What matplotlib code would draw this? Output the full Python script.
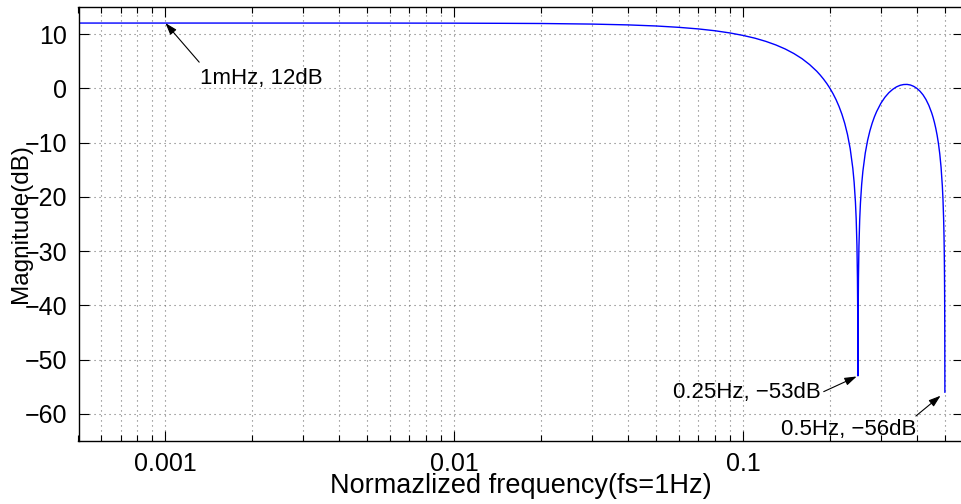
import numpy as np
import matplotlib
matplotlib.use('Agg')
import matplotlib.pyplot as plt
from matplotlib.ticker import FixedLocator, FixedFormatter, LogLocator, NullFormatter

plt.rcParams['font.family'] = ['Liberation Sans', 'DejaVu Sans']

# magnitude response of the 4-tap moving sum
freq = [0.0005, 0.001, 0.002, 0.005, 0.01, 0.015, 0.02, 0.03, 0.04, 0.05,
        0.06, 0.07, 0.08, 0.09, 0.10, 0.11, 0.12, 0.13, 0.14, 0.15,
        0.16, 0.17, 0.18, 0.185, 0.19, 0.195, 0.20, 0.205, 0.21, 0.215,
        0.22, 0.225, 0.23, 0.235, 0.24, 0.2425, 0.245, 0.2465, 0.248, 0.249,
        0.2495, 0.25,
        0.2505, 0.251, 0.252, 0.2535, 0.255, 0.2575, 0.26, 0.265, 0.27, 0.275,
        0.28, 0.285, 0.29, 0.30, 0.31, 0.32, 0.33, 0.34, 0.35, 0.36,
        0.37, 0.38, 0.39, 0.40, 0.41, 0.42, 0.43, 0.44, 0.45, 0.455,
        0.46, 0.465, 0.47, 0.475, 0.48, 0.485, 0.49, 0.4925, 0.495, 0.4965,
        0.4975, 0.498, 0.4985, 0.499, 0.4995, 0.5]
mag_db = [12.04, 12.04, 12.04, 12.04, 12.02, 11.99, 11.96, 11.85, 11.70, 11.50,
          11.25, 10.96, 10.62, 10.22, 9.76, 9.25, 8.66, 8.00, 7.26, 6.42,
          5.48, 4.39, 3.16, 2.46, 1.71, 0.90, 0.00, -0.99, -2.09, -3.34,
          -4.77, -6.45, -8.50, -11.11, -14.75, -17.31, -20.89, -24.03, -28.93, -34.98,
          -41.01, -53.0,
          -41.04, -35.03, -29.04, -24.22, -21.17, -17.72, -15.29, -11.93, -9.59, -7.82,
          -6.42, -5.26, -4.30, -2.77, -1.64, -0.79, -0.17, 0.28, 0.57, 0.71,
          0.73, 0.62, 0.37, 0.00, -0.52, -1.19, -2.05, -3.14, -4.51, -5.33,
          -6.28, -7.37, -8.64, -10.17, -12.07, -14.54, -18.03, -20.52, -24.04, -27.14,
          -30.06, -32.0, -34.49, -38.02, -44.04, -56.0]

xticks = [0.001, 0.01, 0.1]
xtick_labels = ['0.001', '0.01', '0.1']
yticks = [10, 0, -10, -20, -30, -40, -50, -60]

# (text, frequency, dB, text offset in px, alignment, arrow start on text box, shrink)
notes = [('1mHz, 12dB', 0.001, 12.04, (35, -45), ('left', 'top'), (-0.01, 1.28), 0),
         ('0.25Hz, \u221253dB', 0.25, -53.0, (-37, -17), ('right', 'center'), (1, 0.5), 1),
         ('0.5Hz, \u221256dB', 0.5, -56.0, (-29, -27), ('right', 'top'), (1, 1.15), 4)]

fig = plt.figure(figsize=(9.62, 5.04), dpi=100)
ax = fig.add_axes([78.5 / 962, 63 / 504, 885 / 962, 434 / 504])

ax.semilogx(freq, mag_db, color='#0000ff', lw=1.0)
ax.set_xlim(0.0005, 0.58)
ax.set_ylim(-65, 15)

ax.xaxis.set_major_locator(FixedLocator(xticks))
ax.xaxis.set_major_formatter(FixedFormatter(xtick_labels))
ax.xaxis.set_minor_locator(LogLocator(base=10, subs=np.arange(2, 10)))
ax.xaxis.set_minor_formatter(NullFormatter())
ax.set_yticks(yticks)

grid_style = dict(linestyle=(0, (1, 3.5)), color='0.45', lw=0.8)
ax.grid(True, which='both', axis='x', **grid_style)
ax.grid(True, which='major', axis='y', **grid_style)

ax.tick_params(which='both', direction='in', top=True, right=True, labelsize=18,
               width=0.8, pad=8)
ax.tick_params(which='major', length=7)
ax.tick_params(which='minor', length=4)
for s in ax.spines.values():
    s.set_linewidth(1.0)

ax.set_xlabel('Normazlized frequency(fs=1Hz)', fontsize=19.5)
ax.set_ylabel('Magnitude(dB)', fontsize=17.5)
ax.xaxis.set_label_coords(0.5, -0.073)
ax.yaxis.set_label_coords(-0.053, 0.5)

for txt, f, db, off, (ha, va), rp, shrink in notes:
    ax.annotate(txt, xy=(f, db), xytext=off, textcoords='offset pixels',
                ha=ha, va=va, fontsize=16,
                arrowprops=dict(arrowstyle='-|>,head_length=0.6,head_width=0.2',
                                color='black', lw=0.8, mutation_scale=12,
                                relpos=rp, shrinkA=0, shrinkB=shrink))

fig.savefig('out.png', dpi=100)
